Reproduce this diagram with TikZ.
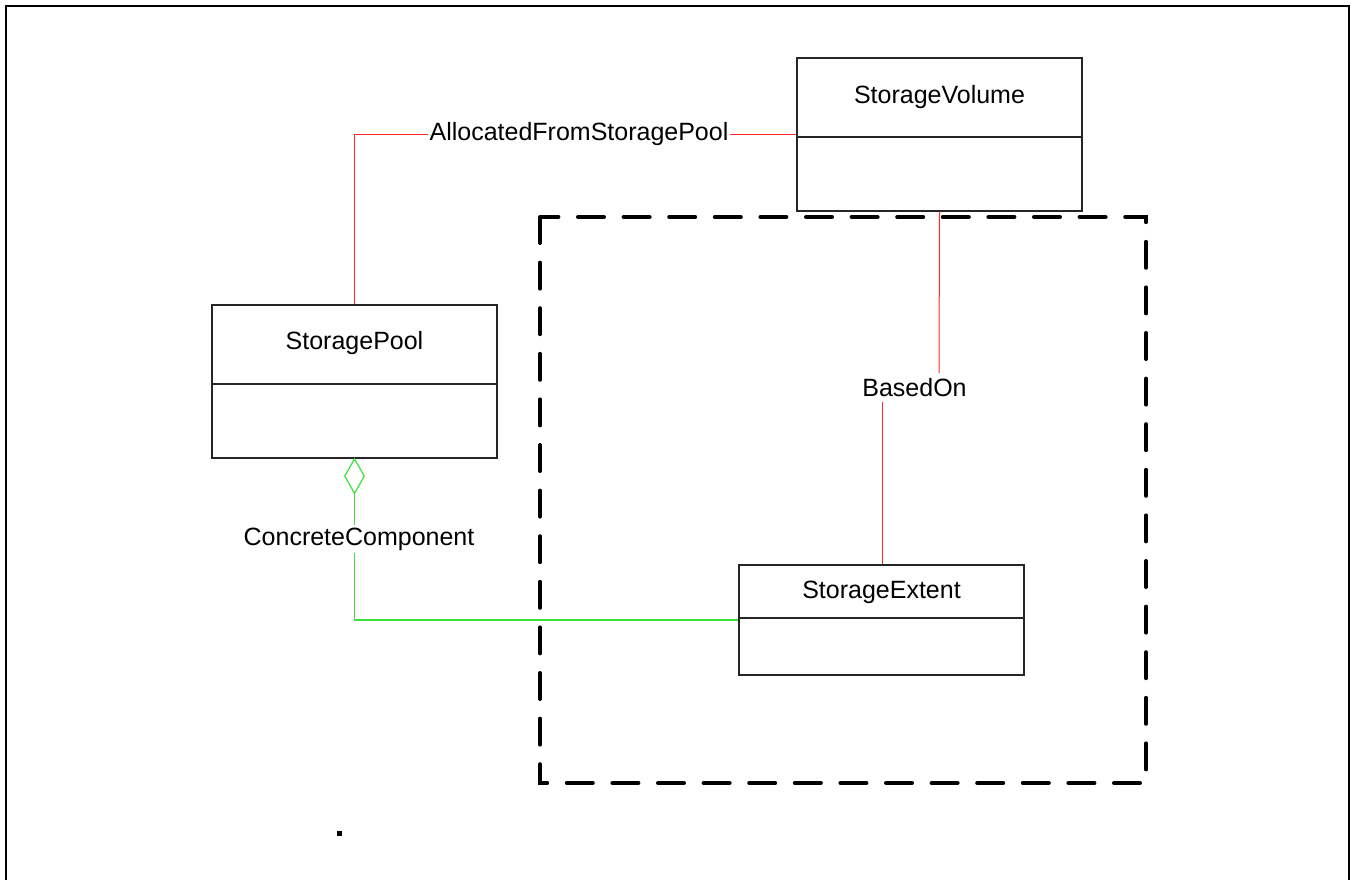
\documentclass[tikz,border=0pt]{standalone}
\usepackage{fontspec}
\setmainfont{Liberation Sans}
\usetikzlibrary{shapes.geometric}
\definecolor{relred}{RGB}{255,40,40}
\definecolor{relgreen}{RGB}{60,225,60}
\tikzset{
  classbox/.style={draw=black!85, line width=1.1pt, rectangle, minimum width=285pt, inner sep=0pt},
  divider/.style={draw=black!85, line width=1.1pt},
  ctitle/.style={font=\fontsize{25}{28}\selectfont, inner sep=0pt},
  rlabel/.style={font=\fontsize{25}{28}\selectfont, inner xsep=1pt, inner ysep=2pt, fill=white},
  redline/.style={draw=relred, line width=1pt},
  greenline/.style={draw=relgreen, line width=1.2pt},
  aggdiamond/.style={diamond, draw=relgreen, line width=1.2pt, minimum width=20pt, minimum height=35pt, inner sep=0pt, aspect=0.57},
  dashframe/.style={draw=black, line width=4pt, line cap=round, dash pattern=on 26pt off 19.6pt}
}
\begin{document}
\begin{tikzpicture}[x=1pt, y=-1pt]
\useasboundingbox (0,0) rectangle (1351,880);
\fill[white] (0,0) rectangle (1351,880);
\begin{scope}
\clip (0,0) rectangle (1351,880);
\draw[line width=2.4pt] (6,6) rectangle (1349,900);
\end{scope}

% dashed frame
\draw[dashframe] (540,217) rectangle (1146,783);

% classes
\node[classbox, minimum height=153pt] (sv) at (939.5,134.5) {};
\draw[divider] (sv.west |- 0,137) -- (sv.east |- 0,137);
\node[ctitle] (svt) at (939.5,97) {StorageVolume};

\node[classbox, minimum height=153pt] (sp) at (354.5,381.5) {};
\draw[divider] (sp.west |- 0,384) -- (sp.east |- 0,384);
\node[ctitle] (spt) at (354.5,343) {StoragePool};

\node[classbox, minimum height=110pt] (se) at (881.5,620) {};
\draw[divider] (se.west |- 0,618) -- (se.east |- 0,618);
\node[ctitle] (set) at (881.5,592) {StorageExtent};

% AllocatedFromStoragePool
\node[rlabel] (l1) at (579,134.5) {AllocatedFromStoragePool};
\draw[redline] (sp.north) |- (l1.west);
\draw[redline] (l1.east) -- (sv.west);

% BasedOn
\node[rlabel] (l2) at (914.5,388) {BasedOn};
\coordinate (bupper) at (939,373);
\coordinate (blower) at (882,402);
\draw[redline] (sv.south) -- (bupper);
\draw[redline] (blower) -- (blower |- se.north);

% ConcreteComponent
\node[aggdiamond, anchor=north] (dia) at (354.5,458) {};
\node[rlabel] (l3) at (359,539) {ConcreteComponent};
\draw[greenline] (dia.south) -- (dia.south |- l3.north);
\draw[greenline] (dia.south |- l3.south) |- (se.west);

% stray dot
\fill (336.5,830.5) rectangle (341.5,835.5);
\end{tikzpicture}
\end{document}
